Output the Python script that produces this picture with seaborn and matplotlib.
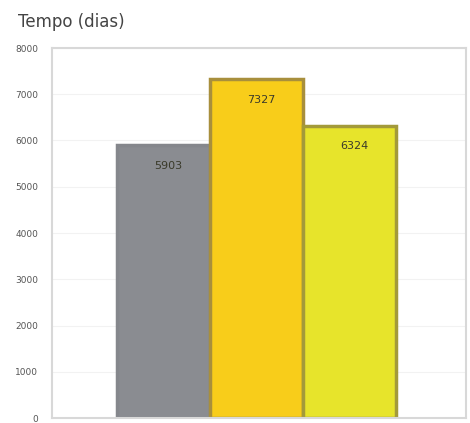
import matplotlib
matplotlib.use("Agg")
import matplotlib.pyplot as plt
import seaborn as sns
import pandas as pd

categories = ["A", "B", "C"]
values = [5903, 7327, 6324]
bar_labels = ["5903", "7327", "6324"]
colors = ["#8a8c91", "#f8cd1a", "#e7e42b"]
edges = ["#85878c", "#a88f3c", "#a39a3a"]
yticks = [0, 1000, 2000, 3000, 4000, 5000, 6000, 7000, 8000]

df = pd.DataFrame({"cat": categories, "val": values})

sns.set_theme(style="white")
plt.rcParams['font.family'] = ['DejaVu Sans']
fig = plt.figure(figsize=(4.7, 4.23), dpi=100)
ax = fig.add_axes([52/470, 1-418/423, 414/470, 370/423])

sns.barplot(data=df, x="cat", y="val", hue="cat", palette=colors, legend=False,
            width=1.0, ax=ax, linewidth=2.5, saturation=1)
for p, ec in zip(ax.patches, edges):
    p.set_edgecolor(ec)

for i, (v, lab) in enumerate(zip(values, bar_labels)):
    ax.text(i + 0.05, v - 450, lab, ha="center", va="center", fontsize=8, color="#3a3a2a")

ax.set_xlim(-1.2, 3.25)
ax.set_ylim(0, 8000)
ax.set_yticks(yticks)
ax.set_yticklabels([str(t) for t in yticks], fontsize=6.5, color="#555555")
ax.set_xticks([])
ax.set_xlabel("")
ax.set_ylabel("")
ax.tick_params(axis="y", length=0, pad=10)
ax.grid(axis="y", color="#f2f2f2", linewidth=0.8)
ax.set_axisbelow(True)
for s in ax.spines.values():
    s.set_color("#d8d8d8")
    s.set_linewidth(1.5)

fig.text(18/470, 1-22/423, "Tempo (dias)", fontsize=12, color="#444444", va="center", ha="left")

fig.savefig("out.png", dpi=100)
